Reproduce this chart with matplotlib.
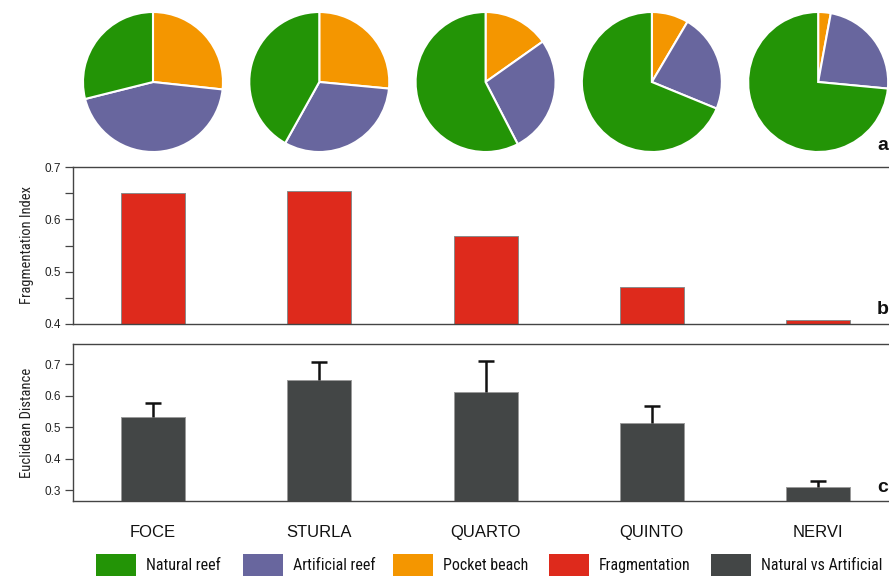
import matplotlib
matplotlib.use("Agg")
import matplotlib.pyplot as plt
from matplotlib.patches import Patch
from matplotlib import font_manager
import numpy as np

# ---------------- data ----------------
sites = ["FOCE", "STURLA", "QUARTO", "QUINTO", "NERVI"]
# pie composition (drawn clockwise from 12 o'clock)
pocket_beach = [0.267, 0.265, 0.152, 0.085, 0.029]
artificial_reef = [0.444, 0.316, 0.272, 0.227, 0.236]
natural_reef = [0.289, 0.419, 0.576, 0.688, 0.735]
# panel b
fragmentation = [0.651, 0.655, 0.569, 0.471, 0.408]
# panel c
euclid = [0.533, 0.652, 0.612, 0.514, 0.312]
euclid_err = [0.045, 0.056, 0.100, 0.054, 0.019]

legend_labels = ["Natural reef", "Artificial reef", "Pocket beach",
                 "Fragmentation", "Natural vs Artificial"]

# ---------------- style ----------------
C_GREEN = "#239406"
C_PURPLE = "#68669e"
C_ORANGE = "#f49600"
C_RED = "#de2a1c"
C_GRAY = "#434646"
SPINE = "#444444"

names = {f.name for f in font_manager.fontManager.ttflist}
NARROW = "Liberation Sans"
for cand in ["Liberation Sans Narrow", "Arial Narrow", "Roboto Condensed",
             "Open Sans Condensed", "Noto Sans Condensed"]:
    if cand in names:
        NARROW = cand
        break
plt.rcParams["font.family"] = ["Liberation Sans", "DejaVu Sans"]

W, H = 889, 576
fig = plt.figure(figsize=(W / 100, H / 100), dpi=100)
fig.patch.set_facecolor("white")
renderer = fig.canvas.get_renderer()

def fit_size(text, target_px, family, base=12.0):
    t = fig.text(0, 0, text, family=family, fontsize=base)
    w = t.get_window_extent(renderer=renderer).width
    t.remove()
    return base * target_px / w

def px_rect(left, top, right, bottom):
    return [left / W, 1 - bottom / H, (right - left) / W, (bottom - top) / H]

x = np.arange(len(sites))
XLIM = (-0.481, 4.426)
AX_L, AX_R = 73, 889

def style_bar_axes(ax):
    ax.set_xlim(*XLIM)
    for s in ["top", "left", "bottom"]:
        ax.spines[s].set_color(SPINE)
        ax.spines[s].set_linewidth(1.0)
    ax.spines["right"].set_visible(False)
    ax.tick_params(axis="y", which="both", direction="out", length=6,
                   width=0.9, color=SPINE, labelsize=8.5, pad=2.5,
                   labelcolor="#222222")
    ax.set_facecolor("white")

ylab_b = fit_size("Fragmentation Index", 117, NARROW)
ylab_c = fit_size("Euclidean Distance", 109, NARROW)
leg_size = fit_size("Natural vs Artificial", 113, NARROW) * 1.07

# ---------------- panel b ----------------
axb = fig.add_axes(px_rect(AX_L, 167, AX_R, 324))
axb.bar(x, fragmentation, width=0.385, color=C_RED,
        edgecolor="#8a8a8a", linewidth=0.7, zorder=2)
axb.set_ylim(0.4, 0.7)
axb.set_yticks([0.4, 0.5, 0.6, 0.7])
axb.set_yticks([0.45, 0.55, 0.65], minor=True)
axb.set_yticklabels(["0.4", "0.5", "0.6", "0.7"])
style_bar_axes(axb)
axb.set_xticks([])
axb.set_ylabel("Fragmentation Index", family=NARROW, fontsize=ylab_b,
               color="#222222")
axb.yaxis.set_label_coords(-0.048, 0.5)

# ---------------- panel c ----------------
axc = fig.add_axes(px_rect(AX_L, 344, AX_R, 501))
axc.bar(x, euclid, width=0.385, color=C_GRAY, edgecolor="#9a9a9a",
        linewidth=0.7, zorder=2)
eb = axc.errorbar(x, euclid, yerr=[np.zeros(len(euclid)), euclid_err],
                  fmt="none", ecolor="#111111", elinewidth=1.8, capsize=6,
                  capthick=1.8, zorder=3)
caplines = eb.lines[1]
if len(caplines) == 2:
    caplines[0].set_visible(False)   # hide the lower cap (at bar top)
axc.set_ylim(0.266, 0.765)
axc.set_yticks([0.3, 0.4, 0.5, 0.6, 0.7])
axc.set_yticklabels(["0.3", "0.4", "0.5", "0.6", "0.7"])
style_bar_axes(axc)
axc.set_xticks(x)
axc.set_xticklabels(sites, fontsize=12, color="#111111")
axc.tick_params(axis="x", length=0, pad=17)
axc.set_ylabel("Euclidean Distance", family=NARROW, fontsize=ylab_c,
               color="#222222")
axc.yaxis.set_label_coords(-0.048, 0.5)

# ---------------- panel a: pies ----------------
R = 70
PIE_CY = 82
fig.canvas.draw()
for i in range(len(sites)):
    disp = axb.transData.transform((x[i], 0.5))
    cx = disp[0] * W / fig.bbox.width
    axp = fig.add_axes(px_rect(cx - R, PIE_CY - R, cx + R, PIE_CY + R))
    axp.pie([pocket_beach[i], artificial_reef[i], natural_reef[i]],
            colors=[C_ORANGE, C_PURPLE, C_GREEN], startangle=90,
            counterclock=False,
            wedgeprops=dict(edgecolor="white", linewidth=1.5))
    axp.set_xlim(-1.0, 1.0)
    axp.set_ylim(-1.0, 1.0)
    axp.set_aspect("equal")
    axp.axis("off")

# ---------------- panel letters ----------------
for lab, yy in [("a", 146), ("b", 310), ("c", 488)]:
    fig.text(883 / W, 1 - yy / H, lab, fontsize=14, fontweight="bold",
             ha="center", va="center", color="#111111")

# ---------------- legend (one entry per anchor) ----------------
leg_colors = [C_GREEN, C_PURPLE, C_ORANGE, C_RED, C_GRAY]
leg_left_px = [96, 243, 393, 549, 711]
fs_px = leg_size * 100 / 72
for col, lab, lx in zip(leg_colors, legend_labels, leg_left_px):
    leg = fig.legend([Patch(facecolor=col, edgecolor="none")], [lab],
                     loc="center left", bbox_to_anchor=(lx / W, 1 - 565 / H),
                     frameon=False, prop=dict(family=NARROW, size=leg_size),
                     handlelength=40 / fs_px, handleheight=27 / fs_px,
                     handletextpad=10 / fs_px, borderpad=0, borderaxespad=0)
    for t in leg.get_texts():
        t.set_color("#111111")

fig.savefig("out.png", dpi=100, facecolor="white")
